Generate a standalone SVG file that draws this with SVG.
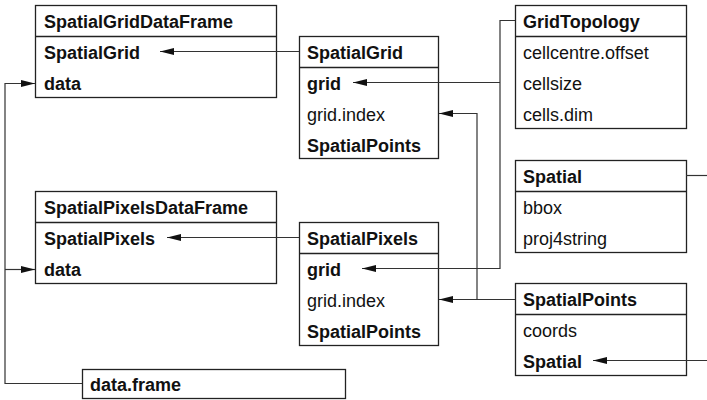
<svg xmlns="http://www.w3.org/2000/svg" width="707" height="400" viewBox="0 0 707 400">
<style>
.box{fill:#fff;stroke:#222;stroke-width:1.3}
.div{stroke:#222;stroke-width:1.3}
text{font-family:"Liberation Sans",Arial,Helvetica,sans-serif;font-size:18px;fill:#111}
.b{font-weight:bold}
.c{fill:none;stroke:#333;stroke-width:1.2}
</style>
<defs>
<marker id="ah" markerUnits="userSpaceOnUse" markerWidth="15" markerHeight="8" refX="14" refY="3.5" orient="auto">
<path d="M0,0 L14,3.5 L0,7 z" fill="#111"/>
</marker>
</defs>
<rect width="707" height="400" fill="#fff"/>
<g id="SpatialGridDataFrame">
<rect class="box" x="35.5" y="5.5" width="241" height="92"/>
<line class="div" x1="35.5" y1="36.5" x2="276.5" y2="36.5"/>
<text class="b" x="44" y="28">SpatialGridDataFrame</text>
<text class="b" x="44" y="59">SpatialGrid</text>
<text class="b" x="44" y="90">data</text>
</g>
<g id="SpatialGrid">
<rect class="box" x="299.5" y="36.5" width="139" height="122"/>
<line class="div" x1="299.5" y1="67.5" x2="438.5" y2="67.5"/>
<text class="b" x="307" y="59">SpatialGrid</text>
<text class="b" x="307" y="90">grid</text>
<text x="307" y="121">grid.index</text>
<text class="b" x="307" y="152">SpatialPoints</text>
</g>
<g id="GridTopology">
<rect class="box" x="515.5" y="5.5" width="171" height="123"/>
<line class="div" x1="515.5" y1="36.5" x2="686.5" y2="36.5"/>
<text class="b" x="523" y="28">GridTopology</text>
<text x="523" y="59">cellcentre.offset</text>
<text x="523" y="90">cellsize</text>
<text x="523" y="121">cells.dim</text>
</g>
<g id="Spatial">
<rect class="box" x="515.5" y="160.5" width="171" height="92"/>
<line class="div" x1="515.5" y1="191.5" x2="686.5" y2="191.5"/>
<text class="b" x="523" y="183">Spatial</text>
<text x="523" y="214">bbox</text>
<text x="523" y="245">proj4string</text>
</g>
<g id="SpatialPixelsDataFrame">
<rect class="box" x="35.5" y="191.5" width="241" height="92"/>
<line class="div" x1="35.5" y1="222.5" x2="276.5" y2="222.5"/>
<text class="b" x="44" y="214">SpatialPixelsDataFrame</text>
<text class="b" x="44" y="245">SpatialPixels</text>
<text class="b" x="44" y="276">data</text>
</g>
<g id="SpatialPixels">
<rect class="box" x="299.5" y="222.5" width="139" height="123"/>
<line class="div" x1="299.5" y1="253.5" x2="438.5" y2="253.5"/>
<text class="b" x="307" y="245">SpatialPixels</text>
<text class="b" x="307" y="276">grid</text>
<text x="307" y="307">grid.index</text>
<text class="b" x="307" y="338">SpatialPoints</text>
</g>
<g id="SpatialPoints">
<rect class="box" x="515.5" y="283.5" width="171" height="92"/>
<line class="div" x1="515.5" y1="314.5" x2="686.5" y2="314.5"/>
<text class="b" x="523" y="306">SpatialPoints</text>
<text x="523" y="337">coords</text>
<text class="b" x="523" y="368">Spatial</text>
</g>
<g id="data.frame">
<rect class="box" x="82.5" y="369.5" width="263" height="29"/>
<text class="b" x="90" y="391">data.frame</text>
</g>
<g id="connectors">
<path class="c" d="M299,51.5 H160" marker-end="url(#ah)"/>
<path class="c" d="M299,237.5 H167" marker-end="url(#ah)"/>
<path class="c" d="M515,20.5 H500 V268.5 H362" marker-end="url(#ah)"/>
<path class="c" d="M500,82.5 H353" marker-end="url(#ah)"/>
<path class="c" d="M515,299.5 H439" marker-end="url(#ah)"/>
<path class="c" d="M477,299.5 V113.5 H439" marker-end="url(#ah)"/>
<path class="c" d="M82,383.5 H5 V83.5 H35" marker-end="url(#ah)"/>
<path class="c" d="M5,269.5 H35" marker-end="url(#ah)"/>
<path class="c" d="M686,175.5 H715"/>
<path class="c" d="M715,360.5 H593" marker-end="url(#ah)"/>
</g>
</svg>
